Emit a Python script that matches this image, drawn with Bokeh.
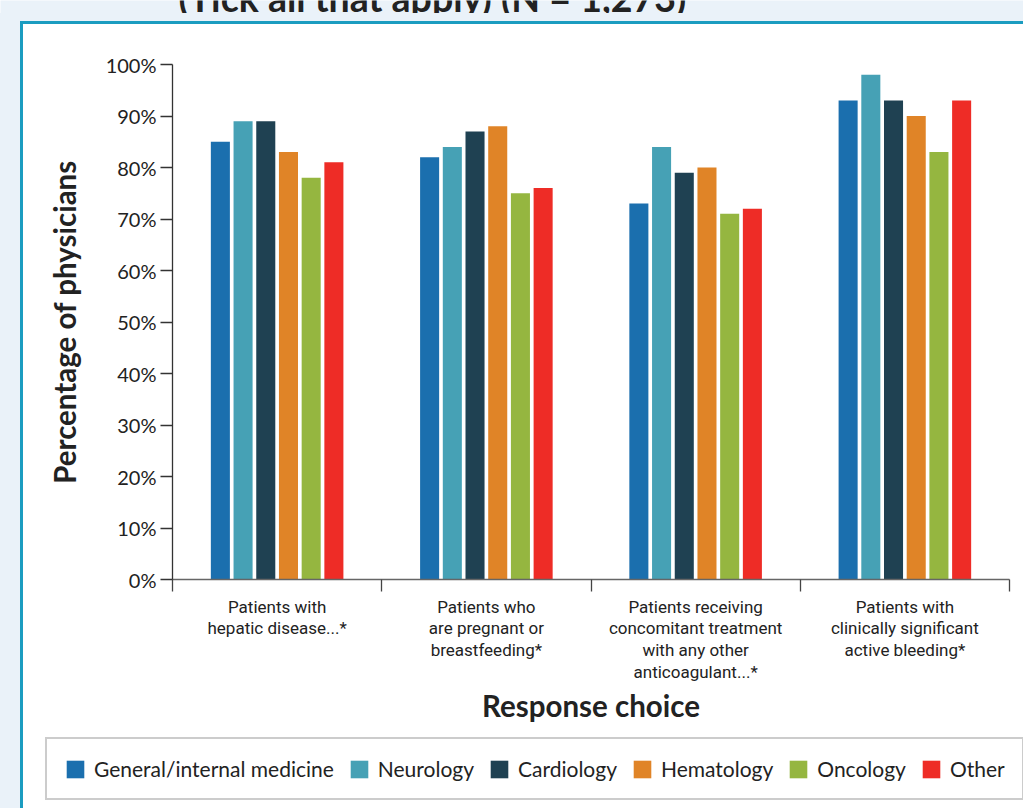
from bokeh.plotting import figure
from bokeh.layouts import column
from bokeh.models import (ColumnDataSource, Range1d, FixedTicker, Legend, LegendItem,
                          Label, GlobalInlineStyleSheet)
from bokeh.embed import file_html
from bokeh.resources import INLINE

# ---- data ----
categories = [
    "Patients with\nhepatic disease...*",
    "Patients who\nare pregnant or\nbreastfeeding*",
    "Patients receiving\nconcomitant treatment\nwith any other\nanticoagulant...*",
    "Patients with\nclinically significant\nactive bleeding*",
]
specialties = ["General/internal medicine", "Neurology", "Cardiology",
               "Hematology", "Oncology", "Other"]
general = [85, 82, 73, 93]
neurology = [89, 84, 84, 98]
cardiology = [89, 87, 79, 93]
hematology = [83, 88, 80, 90]
oncology = [78, 75, 71, 83]
other = [81, 76, 72, 93]
series = [general, neurology, cardiology, hematology, oncology, other]
colors = ["#1b6fae", "#46a1b5", "#1f4152", "#e08427", "#95b640", "#ee2c26"]
y_ticks = [0, 10, 20, 30, 40, 50, 60, 70, 80, 90, 100]
y_tick_labels = ["0%", "10%", "20%", "30%", "40%", "50%", "60%", "70%", "80%", "90%", "100%"]
title_text = "(Tick all that apply) (N = 1,273)"

W = 1023
TH = 13            # title strip height (text cut off at the top, as in the reference)
MH = 730 - TH      # main chart height
LH = 808 - 730     # legend strip height
BG = "#eaf2f9"
TEAL = "#1b9cc0"


def bare(fig):
    fig.outline_line_color = None
    fig.grid.visible = False
    return fig


# ---- title strip ----
t = bare(figure(width=W, height=TH, output_backend="svg", toolbar_location=None,
                x_range=Range1d(0, 1), y_range=Range1d(0, 1),
                x_axis_location=None, y_axis_location=None, frame_align=False,
                min_border_left=0, min_border_right=0, min_border_top=0, min_border_bottom=0))
t.stylesheets = [GlobalInlineStyleSheet(css="html, body {margin:0 !important; padding:0; overflow:hidden;}")]
t.background_fill_color = BG
t.border_fill_color = BG
t.add_layout(Label(x=178, y=16, x_units="screen", y_units="screen",
                   text=title_text, text_font="Lato", text_font_style="bold",
                   text_font_size="37.5px", text_color="#222222",
                   text_baseline="alphabetic"))

# ---- main chart ----
frame_top = 64 - TH
frame_bottom = 579 - TH
p = bare(figure(width=W, height=MH, output_backend="svg", toolbar_location=None,
                x_range=Range1d(0, 2 * len(categories)), y_range=Range1d(0, 100),
                frame_align=False,
                min_border_left=172, min_border_right=14, min_border_top=frame_top,
                min_border_bottom=MH - frame_bottom))
p.border_fill_color = None
p.background_fill_color = "white"
p.styles = {
    "background": (f"linear-gradient(#ffffff,#ffffff) 23px {24 - TH}px / 100% 100% no-repeat, "
                   f"linear-gradient({TEAL},{TEAL}) 20px {21 - TH}px / 100% 100% no-repeat, {BG}"),
}

step = 0.217
bw = 0.182
centers = [2 * i + 1 for i in range(len(categories))]
for k, (name, vals, c) in enumerate(zip(specialties, series, colors)):
    xs = [cx + (k - 2.5) * step for cx in centers]
    src = ColumnDataSource(dict(x=xs, top=vals))
    p.vbar(x="x", top="top", width=bw, bottom=0, source=src,
           fill_color=c, line_color=None)

# y axis
ya = p.yaxis[0]
ya.ticker = FixedTicker(ticks=y_ticks)
ya.major_label_overrides = {tk: lb for tk, lb in zip(y_ticks, y_tick_labels)}
ya.minor_tick_line_color = None
ya.major_tick_in = 0
ya.major_tick_out = 12
ya.major_tick_line_color = "#333333"
ya.major_tick_line_width = 1.3
ya.axis_line_color = "#333333"
ya.axis_line_width = 1.3
ya.major_label_text_font = "Lato"
ya.major_label_text_font_size = "20px"
ya.major_label_text_color = "#222222"
ya.major_label_standoff = 4
ya.axis_label = "Percentage of physicians"
ya.axis_label_text_font = "Lato"
ya.axis_label_text_font_style = "bold"
ya.axis_label_text_font_size = "29.5px"
ya.axis_label_text_color = "#222222"
ya.axis_label_standoff = 21

# x axis
xa = p.xaxis[0]
xa.ticker = FixedTicker(ticks=centers, minor_ticks=[2 * i for i in range(len(categories) + 1)])
xa.major_label_overrides = {cx: lab for cx, lab in zip(centers, categories)}
xa.major_tick_line_color = None
xa.major_tick_out = 0
xa.major_tick_in = 0
xa.minor_tick_in = 0
xa.minor_tick_out = 12
xa.minor_tick_line_color = "#444444"
xa.minor_tick_line_width = 1.3
xa.axis_line_color = "#666666"
xa.axis_line_width = 1.3
xa.major_label_standoff = 5
xa.major_label_text_font = "Roboto"
xa.major_label_text_font_size = "17px"
xa.major_label_text_line_height = 1.09
xa.major_label_text_color = "#222222"
xa.axis_label = "Response choice"
xa.axis_label_text_font = "Lato"
xa.axis_label_text_font_style = "bold"
xa.axis_label_text_font_size = "29.5px"
xa.axis_label_text_color = "#222222"
xa.axis_label_standoff = 3

# ---- legend strip ----
lg = bare(figure(width=W, height=LH, output_backend="svg", toolbar_location=None,
                 x_range=Range1d(0, 1), y_range=Range1d(1000, 1001),
                 x_axis_location=None, y_axis_location=None, frame_align=False,
                 min_border_left=0, min_border_right=0, min_border_top=0, min_border_bottom=0))
lg.border_fill_color = None
lg.background_fill_color = None
lg.styles = {
    "background": (f"linear-gradient(#ffffff,#ffffff) 23px 0px / 100% 100% no-repeat, "
                   f"linear-gradient({TEAL},{TEAL}) 20px 0px / 100% 100% no-repeat, {BG}"),
}
items = []
for name, vals, c in zip(specialties, series, colors):
    # legend swatch renderers: the series bars lie below this strip's visible y range
    src = ColumnDataSource(dict(x=[0.5] * len(vals), top=vals))
    r = lg.vbar(x="x", top="top", width=0.1, bottom=0, source=src,
                fill_color=c, line_color=None)
    items.append(LegendItem(label=name, renderers=[r]))
legend = Legend(items=items, orientation="horizontal",
                location=(45, LH - 70),
                glyph_width=22, glyph_height=22, label_standoff=8, spacing=14,
                padding=17, margin=0,
                label_text_font="Lato", label_text_font_size="21px",
                label_text_color="#222222",
                border_line_color="#999999", border_line_width=2,
                background_fill_color="white", background_fill_alpha=1.0)
lg.add_layout(legend, "center")

open("out.html", "w").write(file_html(column(t, p, lg, spacing=0), INLINE))
